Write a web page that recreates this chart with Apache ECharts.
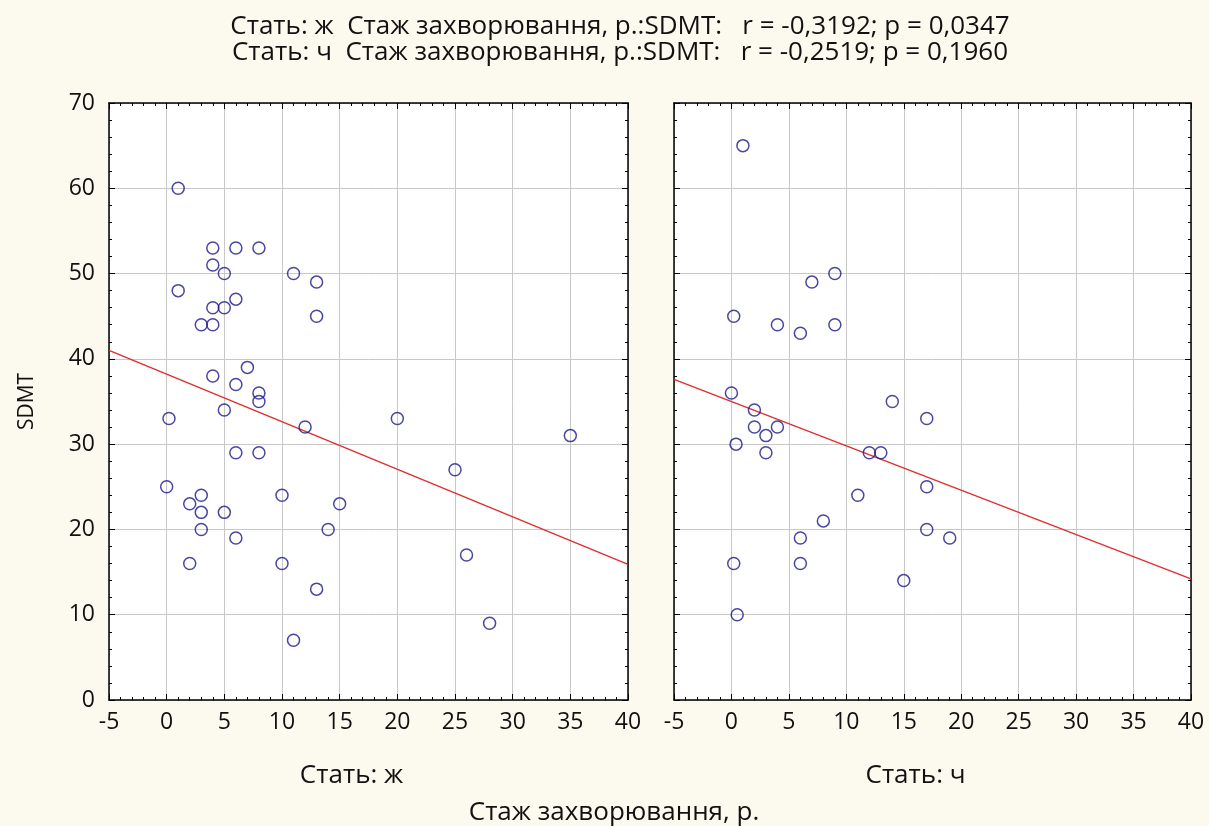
<!DOCTYPE html>
<html><head><meta charset="utf-8">
<script src="https://cdn.jsdelivr.net/npm/echarts@6/dist/echarts.min.js"></script>
<style>html,body{margin:0;padding:0;background:#fcf9ee}#c{width:1209px;height:826px}</style>
</head><body><div id="c"></div>
<script>
// Female panel (Стать: ж): [стаж, SDMT]
const femaleX = [1,4,6,8,4,5,11,13,1,6,4,5,13,3,4,7,4,6,8,8,5,0.2,12,20,6,8,0,3,2,3,5,3,6,2,10,15,14,10,13,11,35,25,26,28];
const femaleY = [60,53,53,53,51,50,50,49,48,47,46,46,45,44,44,39,38,37,36,35,34,33,32,33,29,29,25,24,23,22,22,20,19,16,24,23,20,16,13,7,31,27,17,9];
// Male panel (Стать: ч)
const maleX = [1,9,7,0.2,4,9,6,0,14,2,2,4,3,0.4,3,12,13,17,11,17,8,17,19,6,0.2,6,15,0.5];
const maleY = [65,50,49,45,44,44,43,36,35,34,32,32,31,30,29,29,29,33,24,25,21,20,19,19,16,16,14,10];
// Regression lines (x at ends, fitted SDMT)
const fitX = [-5, 40];
const femaleFitY = [41.0, 15.9];
const maleFitY = [37.6, 14.2];
// Axis ticks
const xTicks = [-5, 0, 5, 10, 15, 20, 25, 30, 35, 40];
const yTicks = [0, 10, 20, 30, 40, 50, 60, 70];
const titles = ['Стать: ж  Стаж захворювання, р.:SDMT:   r = -0,3192; p = 0,0347',
                'Стать: ч  Стаж захворювання, р.:SDMT:   r = -0,2519; p = 0,1960'];
const panelNames = ['Стать: ж', 'Стать: ч'];
const xTitle = 'Стаж захворювання, р.';
const yTitle = 'SDMT';

const FONT = 'Open Sans, Liberation Sans, Arial, sans-serif';
const xMin = xTicks[0], xMax = xTicks[xTicks.length-1];
const yMin = yTicks[0], yMax = yTicks[yTicks.length-1];

function zip(a, b){ return a.map((v,i)=>[v,b[i]]); }

const grids = [
  {left:109, top:103, width:519, height:597, backgroundColor:'#ffffff', show:true, borderWidth:0},
  {left:674, top:103, width:517, height:597, backgroundColor:'#ffffff', show:true, borderWidth:0}
];
const xAxes = [], yAxes = [];
grids.forEach((g, gi) => {
  xAxes.push({
    type:'value', gridIndex:gi, position:'bottom', min:xMin, max:xMax, interval:5,
    name: panelNames[gi], nameLocation:'middle', nameGap:63,
    nameTextStyle:{fontFamily:FONT, fontSize:26, color:'#111', padding:[0, 34, 0, 0]},
    axisLine:{show:true, onZero:false, lineStyle:{color:'#000', width:1.5}},
    axisTick:{show:true, inside:true, length:6, lineStyle:{color:'#000'}},
    minorTick:{show:true, splitNumber:5, length:3, lineStyle:{color:'#000'}},
    axisLabel:{show:true, fontFamily:FONT, fontSize:23, color:'#111', margin:11,
      formatter: v => String(v)},
    splitLine:{show:true, lineStyle:{color:'#c8c8c8', width:1}}
  });
  xAxes.push({
    type:'value', gridIndex:gi, position:'top', min:xMin, max:xMax, interval:5,
    axisLine:{show:true, onZero:false, lineStyle:{color:'#000', width:1.5}},
    axisTick:{show:true, inside:true, length:6, lineStyle:{color:'#000'}},
    minorTick:{show:true, splitNumber:5, length:3, lineStyle:{color:'#000'}},
    axisLabel:{show:false}, splitLine:{show:false}
  });
  yAxes.push({
    type:'value', gridIndex:gi, position:'left', min:yMin, max:yMax, interval:10,
    name: gi===0 ? yTitle : '', nameLocation:'middle', nameGap:71, nameRotate:90,
    nameTextStyle:{fontFamily:FONT, fontSize:21, color:'#111'},
    axisLine:{show:true, onZero:false, lineStyle:{color:'#000', width:1.5}},
    axisTick:{show:true, inside:true, length:6, lineStyle:{color:'#000'}},
    minorTick:{show:true, splitNumber:5, length:3, lineStyle:{color:'#000'}},
    axisLabel:{show:gi===0, fontFamily:FONT, fontSize:23, color:'#111', margin:14},
    splitLine:{show:true, lineStyle:{color:'#c8c8c8', width:1}}
  });
  yAxes.push({
    type:'value', gridIndex:gi, position:'right', min:yMin, max:yMax, interval:10,
    axisLine:{show:true, onZero:false, lineStyle:{color:'#000', width:1.5}},
    axisTick:{show:true, inside:true, length:6, lineStyle:{color:'#000'}},
    minorTick:{show:true, splitNumber:5, length:3, lineStyle:{color:'#000'}},
    axisLabel:{show:false}, splitLine:{show:false}
  });
});

const scatterStyle = {color:'transparent', borderColor:'#1a1a8c', borderWidth:1.5};
const option = {
  backgroundColor:'#fcf9ee',
  animation:false,
  title:[
    {text: titles.join('\n'), left:615, textAlign:'center', top:9,
     textStyle:{fontFamily:FONT, fontSize:26, fontWeight:'normal', color:'#111', lineHeight:26}},
    {text: xTitle, left:609, textAlign:'center', top:795,
     textStyle:{fontFamily:FONT, fontSize:26, fontWeight:'normal', color:'#111', lineHeight:26}}
  ],
  grid: grids,
  xAxis: xAxes,
  yAxis: yAxes,
  series:[
    {type:'scatter', xAxisIndex:0, yAxisIndex:0, data: zip(femaleX, femaleY),
     symbol:'circle', symbolSize:12, itemStyle:scatterStyle, z:3},
    {type:'line', xAxisIndex:0, yAxisIndex:0, data: zip(fitX, femaleFitY),
     showSymbol:false, lineStyle:{color:'#e03030', width:1.5}, z:2},
    {type:'scatter', xAxisIndex:2, yAxisIndex:2, data: zip(maleX, maleY),
     symbol:'circle', symbolSize:12, itemStyle:scatterStyle, z:3},
    {type:'line', xAxisIndex:2, yAxisIndex:2, data: zip(fitX, maleFitY),
     showSymbol:false, lineStyle:{color:'#e03030', width:1.5}, z:2}
  ]
};
const chart = echarts.init(document.getElementById('c'), null, {renderer:'canvas'});
chart.setOption(option);
</script></body></html>
